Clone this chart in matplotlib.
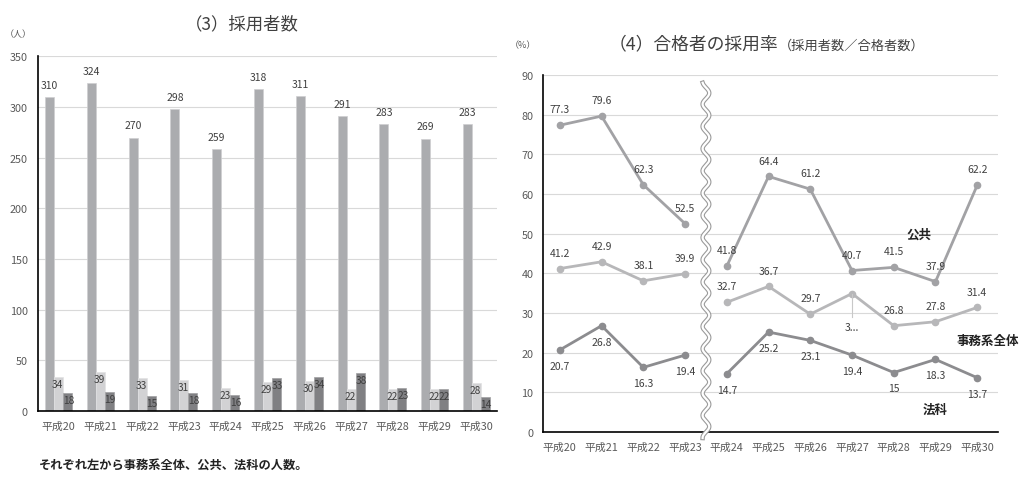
import numpy as np
import matplotlib
matplotlib.use("Agg")
from matplotlib import pyplot as plt

plt.rcParams['font.family'] = ['Noto Sans CJK JP', 'DejaVu Sans']

years = ['平成20', '平成21', '平成22', '平成23', '平成24', '平成25',
         '平成26', '平成27', '平成28', '平成29', '平成30']

# (3) 採用者数
hired_total = [310, 324, 270, 298, 259, 318, 311, 291, 283, 269, 283]
hired_public = [34, 39, 33, 31, 23, 29, 30, 22, 22, 22, 28]
hired_law = [18, 19, 15, 18, 16, 33, 34, 38, 23, 22, 14]

# (4) 合格者の採用率
rate_public = [77.3, 79.6, 62.3, 52.5, 41.8, 64.4, 61.2, 40.7, 41.5, 37.9, 62.2]
rate_total = [41.2, 42.9, 38.1, 39.9, 32.7, 36.7, 29.7, 34.9, 26.8, 27.8, 31.4]
rate_total_labels = ['41.2', '42.9', '38.1', '39.9', '32.7', '36.7', '29.7',
                     '3...', '26.8', '27.8', '31.4']
rate_law = [20.7, 26.8, 16.3, 19.4, 14.7, 25.2, 23.1, 19.4, 15, 18.3, 13.7]

TICK_C = '#595959'
GRID_C = '#D9D9D9'
LBL_C = '#404040'

fig = plt.figure(figsize=(10.19, 4.85), dpi=100)


def style_axes(ax):
    ax.grid(axis='y', color=GRID_C, linewidth=0.8)
    ax.set_axisbelow(True)
    for s in ['top', 'right']:
        ax.spines[s].set_visible(False)
    ax.spines['left'].set_color('black')
    ax.spines['bottom'].set_color('black')
    ax.spines['left'].set_linewidth(1.2)
    ax.spines['bottom'].set_linewidth(1.2)
    ax.tick_params(length=0, labelsize=7.8, colors=TICK_C, pad=7)


# ---- left: bar chart
ax1 = fig.add_axes([0.037, 0.1505, 0.451, 0.731])
x = np.arange(len(years))
w = 0.216
ax1.bar(x - w, hired_total, w, color='#ABACAF', edgecolor='#CFCFD1', linewidth=0.5)
ax1.bar(x, hired_public, w, color='#D2D2D4', edgecolor='#E2E2E3', linewidth=0.5)
ax1.bar(x + w, hired_law, w, color='#808083', edgecolor='#A0A0A2', linewidth=0.5)
for xi, v in zip(x, hired_total):
    ax1.text(xi - w, v + 7, str(v), ha='center', va='bottom', fontsize=7.5, color=LBL_C)
for xi, v in zip(x, hired_public):
    ax1.text(xi - 0.02, v - 2, str(v), ha='center', va='top', fontsize=7.3, color=LBL_C)
for xi, v in zip(x, hired_law):
    ax1.text(xi + w + 0.02, v - 2, str(v), ha='center', va='top', fontsize=7.3, color=LBL_C)
ax1.set_xlim(-0.5, 10.5)
ax1.set_ylim(0, 350)
ax1.set_yticks(range(0, 351, 50))
ax1.set_xticks(x)
ax1.set_xticklabels(years)
style_axes(ax1)

fig.text(0.237, 0.950, '（3）採用者数', ha='center', va='center', fontsize=12.5, color='#404040')
fig.text(0.005, 0.928, '（人）', ha='left', va='center', fontsize=6.5, color=TICK_C)
fig.text(0.038, 0.040, 'それぞれ左から事務系全体、公共、法科の人数。', ha='left', va='center',
         fontsize=8.8, fontweight='bold', color='#222222')

# ---- right: line chart with break
ax2 = fig.add_axes([0.533, 0.107, 0.4465, 0.7367])
series = [
    (rate_public, [f'{v}' for v in rate_public], '#A2A2A5', 'above'),
    (rate_total, rate_total_labels, '#B7B7B9', 'above'),
    (rate_law, [f'{v:g}' for v in rate_law], '#8C8C8F', 'below'),
]
for vals, labels, col, pos in series:
    ax2.plot(x[:4], vals[:4], color=col, linewidth=2, marker='o', markersize=4.5)
    ax2.plot(x[4:], vals[4:], color=col, linewidth=2, marker='o', markersize=4.5)
    for xi, v, lab in zip(x, vals, labels):
        if lab == '3...':
            ax2.plot([xi, xi], [v, v - 6], color='#C8C8C8', linewidth=0.8)
            ax2.text(xi, v - 8.5, lab, ha='center', va='center', fontsize=7.5, color=LBL_C)
        elif pos == 'above':
            ax2.text(xi, v + 4, lab, ha='center', va='center', fontsize=7.5, color=LBL_C)
        else:
            ax2.text(xi, v - 4, lab, ha='center', va='center', fontsize=7.5, color=LBL_C)

ax2.text(8.6, 49.9, '公共', ha='center', va='center', fontsize=9, fontweight='bold', color='#222222')
ax2.text(10.25, 23.0, '事務系全体', ha='center', va='center', fontsize=9, fontweight='bold', color='#222222')
ax2.text(9.0, 5.8, '法科', ha='center', va='center', fontsize=9, fontweight='bold', color='#222222')

# wavy break mark between 平成23 and 平成24
yy = np.linspace(-1.5, 88, 600)
xx = 3.5 + 0.08 * np.sin(yy / 5.6 * 2 * np.pi)
ax2.plot(xx, yy, color='#9A9A9A', linewidth=3.2, clip_on=False, zorder=4)
ax2.plot(xx, yy, color='white', linewidth=1.6, clip_on=False, zorder=5)

ax2.set_xlim(-0.4, 10.5)
ax2.set_ylim(0, 90)
ax2.set_yticks(range(0, 91, 10))
ax2.set_xticks(x)
ax2.set_xticklabels(years)
style_axes(ax2)

fig.text(0.764, 0.908, '（4）合格者の採用率', ha='right', va='center', fontsize=12.8, color='#404040')
fig.text(0.764, 0.905, '（採用者数／合格者数）', ha='left', va='center', fontsize=9.5, color='#404040')
fig.text(0.500, 0.905, '（%）', ha='left', va='center', fontsize=6.5, color=TICK_C)

fig.savefig('out.png', dpi=100)
